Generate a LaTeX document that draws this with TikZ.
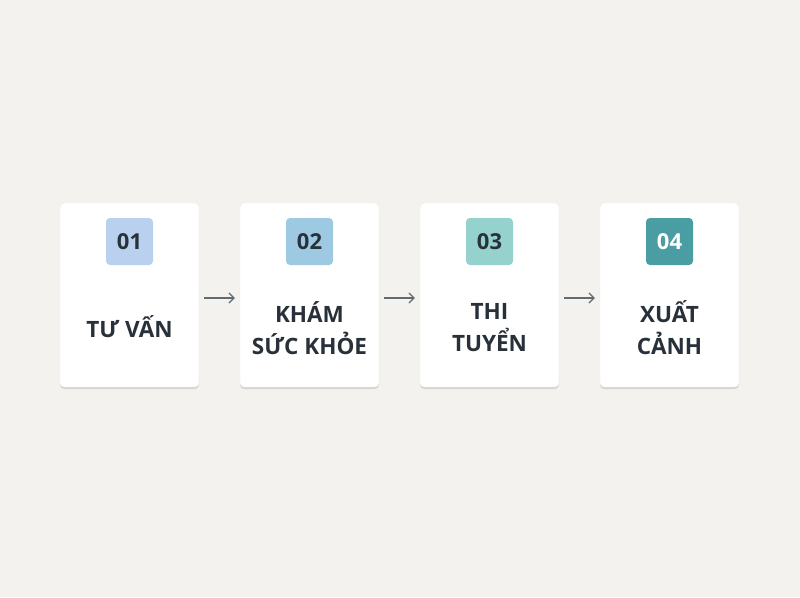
\documentclass[tikz,border=0pt]{standalone}
\usepackage{fontspec}
\setmainfont{Open Sans}
\usetikzlibrary{shadows,arrows.meta}
\definecolor{bg}{HTML}{F3F2EE}
\definecolor{ink}{HTML}{28313A}
\definecolor{arrowgrey}{HTML}{5F6B72}
\definecolor{badgeA}{HTML}{B9D0EE}
\definecolor{badgeB}{HTML}{9DCAE2}
\definecolor{badgeC}{HTML}{95D1CD}
\definecolor{badgeD}{HTML}{4A9DA2}
\tikzset{
  card/.style={draw=black!8, fill=white, rounded corners=4pt, minimum width=139pt,
    minimum height=184pt, inner sep=0pt,
    drop shadow={shadow xshift=0pt, shadow yshift=-2pt, opacity=0.12, fill=black}},
  badge/.style={fill=#1, rounded corners=4pt, minimum size=47pt, inner sep=0pt,
    text=ink, font=\bfseries\fontsize{22}{22}\selectfont},
  label/.style={text=ink, align=center, font=\bfseries\fontsize{22.5}{32}\selectfont},
  flow/.style={draw=arrowgrey, line width=1.2pt, -{Straight Barb[length=5pt,width=10pt]}}
}
\begin{document}
\begin{tikzpicture}[x=1pt,y=-1pt]
\useasboundingbox[fill=bg] (0,0) rectangle (800,597);
% cards
\node (card1) [card] at (129.5,295) {};
\node (card2) [card] at (309.5,295) {};
\node (card3) [card] at (489.5,295) {};
\node (card4) [card] at (669.5,295) {};
% numbers
\node (num1) [badge=badgeA] at (129.5,241.5) {01};
\node (num2) [badge=badgeB] at (309.5,241.5) {02};
\node (num3) [badge=badgeC] at (489.5,241.5) {03};
\node (num4) [badge=badgeD, text=white] at (669.5,241.5) {04};
% steps
\node (step1) [label] at (129.5,327) {TƯ VẤN};
\node (step2) [label] at (309.5,328) {KHÁM\\SỨC KHỎE};
\node (step3) [label] at (489.5,328) {THI\\TUYỂN};
\node (step4) [label] at (669.5,328) {XUẤT\\CẢNH};
% arrows
\draw [flow] ([xshift=5pt,yshift=-3pt]card1.east) -- ([xshift=-5pt,yshift=-3pt]card2.west);
\draw [flow] ([xshift=5pt,yshift=-3pt]card2.east) -- ([xshift=-5pt,yshift=-3pt]card3.west);
\draw [flow] ([xshift=5pt,yshift=-3pt]card3.east) -- ([xshift=-5pt,yshift=-3pt]card4.west);
\end{tikzpicture}
\end{document}
